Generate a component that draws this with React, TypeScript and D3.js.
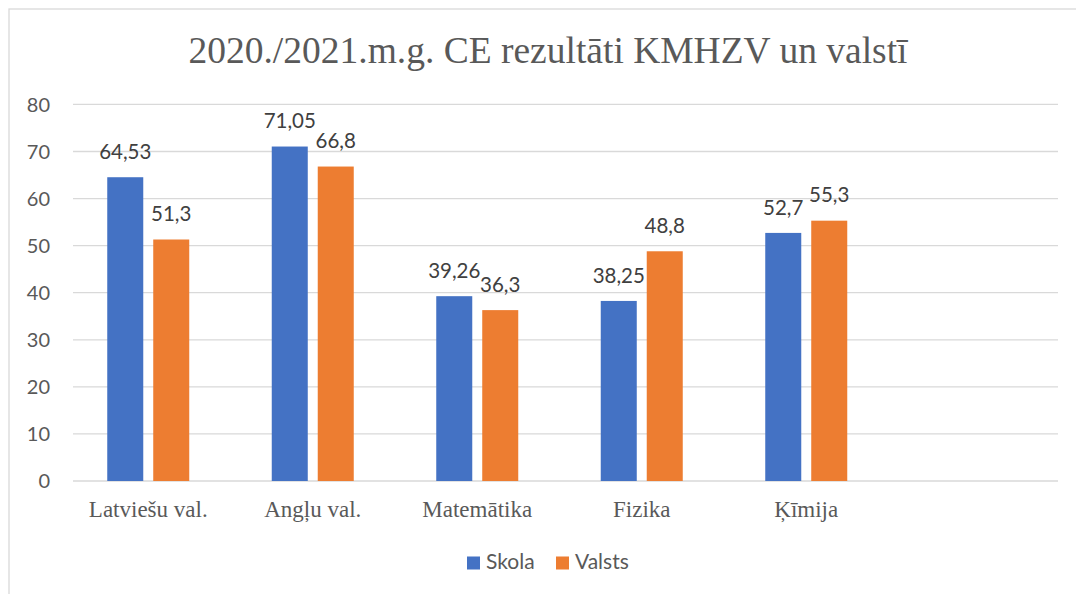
import React from 'react';
import * as d3 from 'd3';

const title = '2020./2021.m.g. CE rezultāti KMHZV un valstī';
const categories = ['Latviešu val.', 'Angļu val.', 'Matemātika', 'Fizika', 'Ķīmija', ''];
const seriesNames = ['Skola', 'Valsts'];
const skola = [64.53, 71.05, 39.26, 38.25, 52.7];
const valsts = [51.3, 66.8, 36.3, 48.8, 55.3];
const labelsSkola = ['64,53', '71,05', '39,26', '38,25', '52,7'];
const labelsValsts = ['51,3', '66,8', '36,3', '48,8', '55,3'];
const yTicks = [0, 10, 20, 30, 40, 50, 60, 70, 80];
const colors = ['#4472C4', '#ED7D31'];

const W = 1076;
const H = 594;
const textColor = '#595959';
const gridColor = '#D9D9D9';
const sans = 'Lato, "Open Sans", sans-serif';
const serif = '"Liberation Serif", "Times New Roman", serif';

export default function App() {
  const x = d3.scaleBand<string>().domain(categories).range([66, 1053]);
  const inner = d3.scaleBand<string>().domain(seriesNames).range([-41, 41]).paddingInner(0.217);
  const y = d3.scaleLinear().domain([0, 80]).range([481, 104.4]);

  const series = [
    { name: seriesNames[0], values: skola, labels: labelsSkola, color: colors[0] },
    { name: seriesNames[1], values: valsts, labels: labelsValsts, color: colors[1] },
  ];

  return (
    <svg width={W} height={H} style={{ position: 'fixed', left: 0, top: 0, background: '#fff' }}>
      <rect x={9} y={9} width={W + 50} height={H + 50} fill="#fff" stroke={gridColor} strokeWidth={1.3} />

      <text x={548} y={63} textAnchor="middle" fontFamily={serif} fontSize={37.5} fill={textColor}>
        {title}
      </text>

      {/* grid + y labels */}
      {yTicks.map(t => (
        <g key={t}>
          <line x1={73} x2={1058} y1={y(t)} y2={y(t)} stroke={gridColor} strokeWidth={1.3} />
          <text x={50} y={y(t)} dy="0.36em" textAnchor="end" fontFamily={sans} fontSize={20} fill={textColor}>
            {t}
          </text>
        </g>
      ))}

      {/* bars */}
      {series.map(s => (
        <g key={s.name}>
          {s.values.map((v, i) => {
            const cx = x(categories[i])! + x.bandwidth() / 2;
            const bx = cx + inner(s.name)!;
            return (
              <g key={i}>
                <rect x={bx} y={y(v)} width={inner.bandwidth()} height={y(0) - y(v)} fill={s.color} />
                <text x={bx + inner.bandwidth() / 2} y={y(v) - 18.4} textAnchor="middle"
                  fontFamily={sans} fontSize={20.5} fill="#404040">
                  {s.labels[i]}
                </text>
              </g>
            );
          })}
        </g>
      ))}

      {/* category labels */}
      {categories.map(c => (
        <text key={c} x={x(c)! + x.bandwidth() / 2} y={517} textAnchor="middle"
          fontFamily={serif} fontSize={23} fill={textColor}>
          {c}
        </text>
      ))}

      {/* legend */}
      {series.map((s, i) => {
        const lx = i === 0 ? 467 : 556;
        return (
          <g key={s.name}>
            <rect x={lx} y={556.5} width={13} height={13} fill={s.color} />
            <text x={lx + 19} y={569} fontFamily={sans} fontSize={21} fill={textColor}>
              {s.name}
            </text>
          </g>
        );
      })}
    </svg>
  );
}
